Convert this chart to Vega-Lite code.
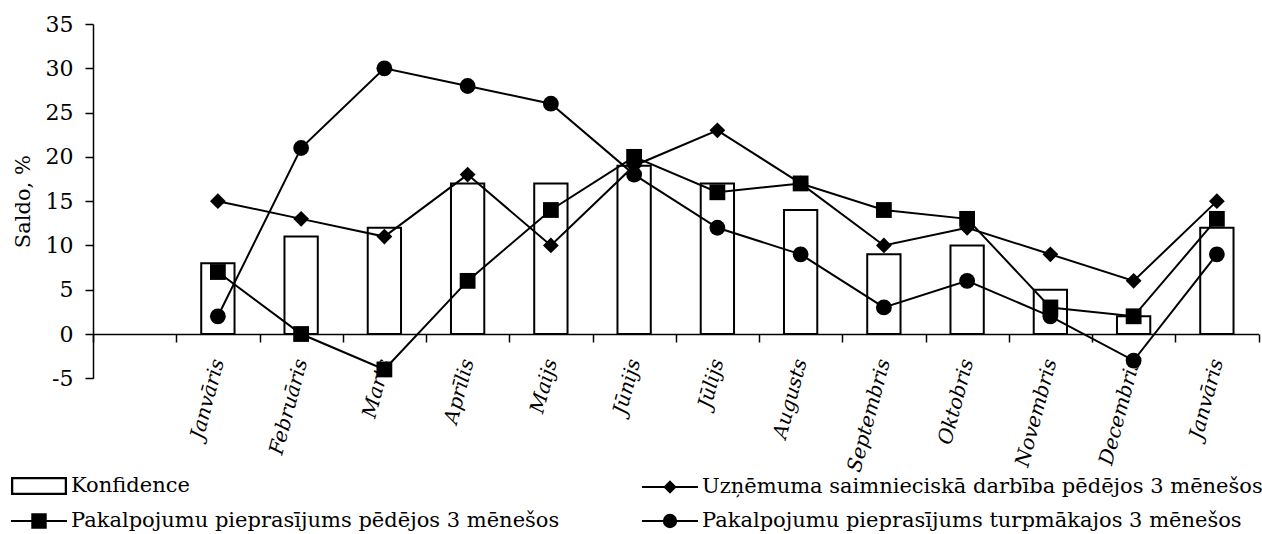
{
  "$schema": "https://vega.github.io/schema/vega-lite/v6.json",
  "width": 1165.5,
  "height": 354.3,
  "autosize": {"type": "none"},
  "padding": {"left": 93, "top": 24, "right": 3.5, "bottom": 155.7},
  "background": "white",
  "config": {
    "view": {"stroke": null},
    "font": "DejaVu Serif",
    "axis": {
      "grid": false,
      "domainColor": "black",
      "tickColor": "black",
      "labelColor": "black",
      "titleColor": "black",
      "labelFont": "DejaVu Serif",
      "titleFont": "DejaVu Serif",
      "labelFontSize": 21,
      "titleFontSize": 21,
      "titleFontWeight": "normal",
      "domainWidth": 1.5,
      "tickWidth": 1.5,
      "tickSize": 8
    }
  },
  "data": {
    "values": [
      {"i": 1, "s": "Konfidence", "v": 8},
      {"i": 2, "s": "Konfidence", "v": 11},
      {"i": 3, "s": "Konfidence", "v": 12},
      {"i": 4, "s": "Konfidence", "v": 17},
      {"i": 5, "s": "Konfidence", "v": 17},
      {"i": 6, "s": "Konfidence", "v": 19},
      {"i": 7, "s": "Konfidence", "v": 17},
      {"i": 8, "s": "Konfidence", "v": 14},
      {"i": 9, "s": "Konfidence", "v": 9},
      {"i": 10, "s": "Konfidence", "v": 10},
      {"i": 11, "s": "Konfidence", "v": 5},
      {"i": 12, "s": "Konfidence", "v": 2},
      {"i": 13, "s": "Konfidence", "v": 12},
      {"i": 1, "s": "Uzņēmuma saimnieciskā darbība pēdējos 3 mēnešos", "v": 15},
      {"i": 2, "s": "Uzņēmuma saimnieciskā darbība pēdējos 3 mēnešos", "v": 13},
      {"i": 3, "s": "Uzņēmuma saimnieciskā darbība pēdējos 3 mēnešos", "v": 11},
      {"i": 4, "s": "Uzņēmuma saimnieciskā darbība pēdējos 3 mēnešos", "v": 18},
      {"i": 5, "s": "Uzņēmuma saimnieciskā darbība pēdējos 3 mēnešos", "v": 10},
      {"i": 6, "s": "Uzņēmuma saimnieciskā darbība pēdējos 3 mēnešos", "v": 19},
      {"i": 7, "s": "Uzņēmuma saimnieciskā darbība pēdējos 3 mēnešos", "v": 23},
      {"i": 8, "s": "Uzņēmuma saimnieciskā darbība pēdējos 3 mēnešos", "v": 17},
      {"i": 9, "s": "Uzņēmuma saimnieciskā darbība pēdējos 3 mēnešos", "v": 10},
      {"i": 10, "s": "Uzņēmuma saimnieciskā darbība pēdējos 3 mēnešos", "v": 12},
      {"i": 11, "s": "Uzņēmuma saimnieciskā darbība pēdējos 3 mēnešos", "v": 9},
      {"i": 12, "s": "Uzņēmuma saimnieciskā darbība pēdējos 3 mēnešos", "v": 6},
      {"i": 13, "s": "Uzņēmuma saimnieciskā darbība pēdējos 3 mēnešos", "v": 15},
      {"i": 1, "s": "Pakalpojumu pieprasījums pēdējos 3 mēnešos", "v": 7},
      {"i": 2, "s": "Pakalpojumu pieprasījums pēdējos 3 mēnešos", "v": 0},
      {"i": 3, "s": "Pakalpojumu pieprasījums pēdējos 3 mēnešos", "v": -4},
      {"i": 4, "s": "Pakalpojumu pieprasījums pēdējos 3 mēnešos", "v": 6},
      {"i": 5, "s": "Pakalpojumu pieprasījums pēdējos 3 mēnešos", "v": 14},
      {"i": 6, "s": "Pakalpojumu pieprasījums pēdējos 3 mēnešos", "v": 20},
      {"i": 7, "s": "Pakalpojumu pieprasījums pēdējos 3 mēnešos", "v": 16},
      {"i": 8, "s": "Pakalpojumu pieprasījums pēdējos 3 mēnešos", "v": 17},
      {"i": 9, "s": "Pakalpojumu pieprasījums pēdējos 3 mēnešos", "v": 14},
      {"i": 10, "s": "Pakalpojumu pieprasījums pēdējos 3 mēnešos", "v": 13},
      {"i": 11, "s": "Pakalpojumu pieprasījums pēdējos 3 mēnešos", "v": 3},
      {"i": 12, "s": "Pakalpojumu pieprasījums pēdējos 3 mēnešos", "v": 2},
      {"i": 13, "s": "Pakalpojumu pieprasījums pēdējos 3 mēnešos", "v": 13},
      {"i": 1, "s": "Pakalpojumu pieprasījums turpmākajos 3 mēnešos", "v": 2},
      {"i": 2, "s": "Pakalpojumu pieprasījums turpmākajos 3 mēnešos", "v": 21},
      {"i": 3, "s": "Pakalpojumu pieprasījums turpmākajos 3 mēnešos", "v": 30},
      {"i": 4, "s": "Pakalpojumu pieprasījums turpmākajos 3 mēnešos", "v": 28},
      {"i": 5, "s": "Pakalpojumu pieprasījums turpmākajos 3 mēnešos", "v": 26},
      {"i": 6, "s": "Pakalpojumu pieprasījums turpmākajos 3 mēnešos", "v": 18},
      {"i": 7, "s": "Pakalpojumu pieprasījums turpmākajos 3 mēnešos", "v": 12},
      {"i": 8, "s": "Pakalpojumu pieprasījums turpmākajos 3 mēnešos", "v": 9},
      {"i": 9, "s": "Pakalpojumu pieprasījums turpmākajos 3 mēnešos", "v": 3},
      {"i": 10, "s": "Pakalpojumu pieprasījums turpmākajos 3 mēnešos", "v": 6},
      {"i": 11, "s": "Pakalpojumu pieprasījums turpmākajos 3 mēnešos", "v": 2},
      {"i": 12, "s": "Pakalpojumu pieprasījums turpmākajos 3 mēnešos", "v": -3},
      {"i": 13, "s": "Pakalpojumu pieprasījums turpmākajos 3 mēnešos", "v": 9}
    ]
  },
  "encoding": {
    "x": {
      "field": "i",
      "type": "ordinal",
      "scale": {"domain": [0, 1, 2, 3, 4, 5, 6, 7, 8, 9, 10, 11, 12, 13], "paddingInner": 0, "paddingOuter": 0},
      "axis": {
        "title": null,
        "offset": -44.3,
        "tickBand": "extent",
        "labelAngle": -75,
        "labelAlign": "right",
        "labelBaseline": "middle",
        "labelFontStyle": "italic",
        "labelFontSize": 20,
        "labelPadding": 17,
        "labelOverlap": false,
        "labelExpr": "['', 'Janvāris', 'Februāris', 'Marts', 'Aprīlis', 'Maijs', 'Jūnijs', 'Jūlijs', 'Augusts', 'Septembris', 'Oktobris', 'Novembris', 'Decembris', 'Janvāris'][datum.value]"
      }
    },
    "y": {
      "field": "v",
      "type": "quantitative",
      "scale": {"domain": [-5, 35], "nice": false, "zero": false},
      "axis": {
        "title": "Saldo, %",
        "values": [-5, 0, 5, 10, 15, 20, 25, 30, 35],
        "labelExpr": "replace(datum.label, '\u2212', '-')",
        "labelFontSize": 22,
        "labelPadding": 12,
        "titlePadding": 12
      }
    }
  },
  "layer": [
    {
      "transform": [{"filter": "datum.s === 'Konfidence'"}],
      "mark": {"type": "bar", "fill": "white", "stroke": "black", "strokeWidth": 2, "width": {"band": 0.4}, "opacity": 1}
    },
    {
      "transform": [{"filter": "datum.s !== 'Konfidence'"}],
      "mark": {"type": "line", "strokeWidth": 2},
      "encoding": {
        "color": {
          "field": "s",
          "type": "nominal",
          "scale": {
            "domain": ["Konfidence", "Uzņēmuma saimnieciskā darbība pēdējos 3 mēnešos", "Pakalpojumu pieprasījums pēdējos 3 mēnešos", "Pakalpojumu pieprasījums turpmākajos 3 mēnešos"],
            "range": ["black", "black", "black", "black"]
          },
          "legend": {
            "orient": "none",
            "legendX": -69,
            "legendY": 447,
            "direction": "horizontal",
            "columns": 2,
            "title": null,
            "labelFont": "DejaVu Serif",
            "labelFontSize": 21,
            "labelColor": "black",
            "labelLimit": 1000,
            "labelOffset": 17,
            "symbolSize": 784,
            "columnPadding": 78,
            "rowPadding": 8,
            "encode": {
              "symbols": {
                "update": {
                  "shape": {"signal": "datum.value === 'Konfidence' ? 'M-1.93,-0.57H1.93V0.57H-1.93ZM-1.91,-0.55V0.55H1.91V-0.55Z' : (indexof(datum.value, 'Uzņ') >= 0 ? 'M-2,0H2M0,-0.38L0.38,0L0,0.38L-0.38,0Z' : (indexof(datum.value, 'pēdējos') >= 0 ? 'M-2,0H2M-0.48,-0.48H0.48V0.48H-0.48Z' : 'M-2,0H2M-0.44,0A0.44,0.44,0,1,0,0.44,0A0.44,0.44,0,1,0,-0.44,0Z'))"},
                  "stroke": {"value": "black"},
                  "strokeWidth": {"value": 2},
                  "size": {"value": 784},
                  "opacity": {"value": 1},
                  "fillOpacity": {"value": 1},
                  "strokeOpacity": {"value": 1}
                }
              }
            }
          }
        }
      }
    },
    {
      "transform": [{"filter": "datum.s !== 'Konfidence'"}],
      "mark": {"type": "point", "filled": true, "size": 250, "opacity": 1},
      "encoding": {
        "color": {"field": "s", "type": "nominal"},
        "shape": {
          "field": "s",
          "type": "nominal",
          "scale": {
            "domain": ["Uzņēmuma saimnieciskā darbība pēdējos 3 mēnešos", "Pakalpojumu pieprasījums pēdējos 3 mēnešos", "Pakalpojumu pieprasījums turpmākajos 3 mēnešos"],
            "range": ["diamond", "square", "circle"]
          },
          "legend": null
        }
      }
    }
  ]
}
